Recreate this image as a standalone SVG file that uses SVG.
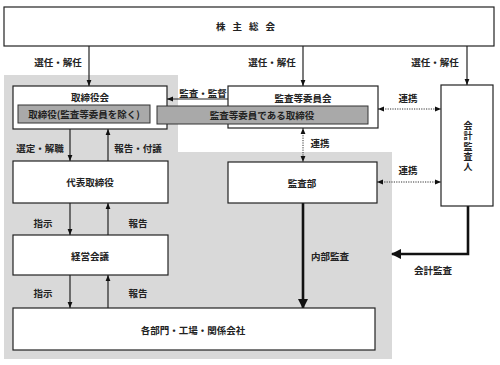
<svg xmlns="http://www.w3.org/2000/svg" width="500" height="365" viewBox="0 0 500 365">
<style>
text{font-family:"Noto Sans CJK JP","Noto Sans CJK SC",sans-serif;font-size:9.5px;font-weight:bold;fill:#222;text-anchor:middle;dominant-baseline:central}
.v{font-size:9px;writing-mode:vertical-rl;letter-spacing:1.3px}
.box{fill:#fff;stroke:#222;stroke-width:1.2}
.inner{fill:#a9a9a9;stroke:#333;stroke-width:1}
.ln{stroke:#222;stroke-width:1.2;fill:none}
.dot{stroke:#333;stroke-width:1;stroke-dasharray:1.2 1.2;fill:none}
.thick{stroke:#111;stroke-width:2.6;fill:none}
</style>
<defs>
<marker id="ah" viewBox="0 0 10 10" refX="10" refY="5" markerWidth="6" markerHeight="6" orient="auto-start-reverse" markerUnits="userSpaceOnUse"><path d="M0,1 L10,5 L0,9 z" fill="#111"/></marker>
<marker id="ahb" viewBox="0 0 10 10" refX="9" refY="5" markerWidth="4" markerHeight="4" orient="auto-start-reverse"><path d="M0,0 L10,5 L0,10 z" fill="#111"/></marker>
</defs>
<rect width="500" height="365" fill="#fff"/>
<polygon points="4,75 178,75 178,152 392,152 392,359 4,359" fill="#d9d9d9"/>

<g id="connectors">
<line class="ln" x1="89" y1="46" x2="89" y2="86" marker-end="url(#ah)"/>
<line class="ln" x1="303" y1="46" x2="303" y2="86" marker-end="url(#ah)"/>
<line class="ln" x1="467" y1="46" x2="467" y2="85" marker-end="url(#ah)"/>
<line class="ln" x1="228" y1="99" x2="167" y2="99" marker-end="url(#ah)"/>
<line class="dot" x1="378" y1="109" x2="441" y2="109" marker-start="url(#ah)" marker-end="url(#ah)"/>
<line class="dot" x1="303" y1="128" x2="303" y2="162" marker-start="url(#ah)" marker-end="url(#ah)"/>
<line class="dot" x1="377" y1="182" x2="441" y2="182" marker-start="url(#ah)" marker-end="url(#ah)"/>
<line class="ln" x1="70" y1="129" x2="70" y2="161" marker-end="url(#ah)"/>
<line class="ln" x1="108" y1="161" x2="108" y2="129" marker-end="url(#ah)"/>
<line class="ln" x1="70" y1="203" x2="70" y2="235" marker-end="url(#ah)"/>
<line class="ln" x1="108" y1="235" x2="108" y2="203" marker-end="url(#ah)"/>
<line class="ln" x1="70" y1="275" x2="70" y2="308" marker-end="url(#ah)"/>
<line class="ln" x1="108" y1="308" x2="108" y2="275" marker-end="url(#ah)"/>
<line class="thick" x1="303" y1="203" x2="303" y2="308" marker-end="url(#ahb)"/>
<polyline class="thick" points="468,206 468,254 392,254" marker-end="url(#ahb)"/>
<text x="58" y="62">選任・解任</text>
<text x="272" y="62">選任・解任</text>
<text x="435" y="62">選任・解任</text>
<text x="203" y="93">監査・監督</text>
<text x="408" y="98">連携</text>
<text x="320" y="143">連携</text>
<text x="408" y="170">連携</text>
<text x="40" y="148">選定・解職</text>
<text x="138" y="148">報告・付議</text>
<text x="43" y="223">指示</text>
<text x="138" y="223">報告</text>
<text x="43" y="293">指示</text>
<text x="138" y="293">報告</text>
<text x="330" y="256">内部監査</text>
<text x="433" y="270">会計監査</text>
</g>

<g id="shareholders">
<rect class="box" x="4" y="7" width="490" height="39"/>
<text x="249" y="26" letter-spacing="7">株主総会</text>
</g>
<g id="board">
<rect class="box" x="13" y="86" width="154" height="43"/>
<text x="90" y="97">取締役会</text>
<rect class="inner" x="18" y="105" width="132" height="18"/>
<text x="84" y="114">取締役(監査等委員を除く)</text>
</g>
<g id="audit-committee">
<rect class="box" x="228" y="86" width="150" height="42"/>
<text x="303" y="98">監査等委員会</text>
</g>
<g id="audit-directors">
<rect class="inner" x="157" y="106" width="211" height="18"/>
<text x="262" y="115">監査等委員である取締役</text>
</g>
<g id="accountant">
<rect class="box" x="441" y="85" width="52" height="121"/>
<text class="v" x="468" y="147">会計監査人</text>
</g>
<g id="ceo">
<rect class="box" x="13" y="161" width="155" height="42"/>
<text x="90" y="182">代表取締役</text>
</g>
<g id="audit-dept">
<rect class="box" x="228" y="162" width="149" height="41"/>
<text x="302" y="183">監査部</text>
</g>
<g id="management">
<rect class="box" x="13" y="235" width="155" height="40"/>
<text x="90" y="256">経営会議</text>
</g>
<g id="departments">
<rect class="box" x="13" y="308" width="362" height="42"/>
<text x="193" y="330">各部門・工場・関係会社</text>
</g>
</svg>
